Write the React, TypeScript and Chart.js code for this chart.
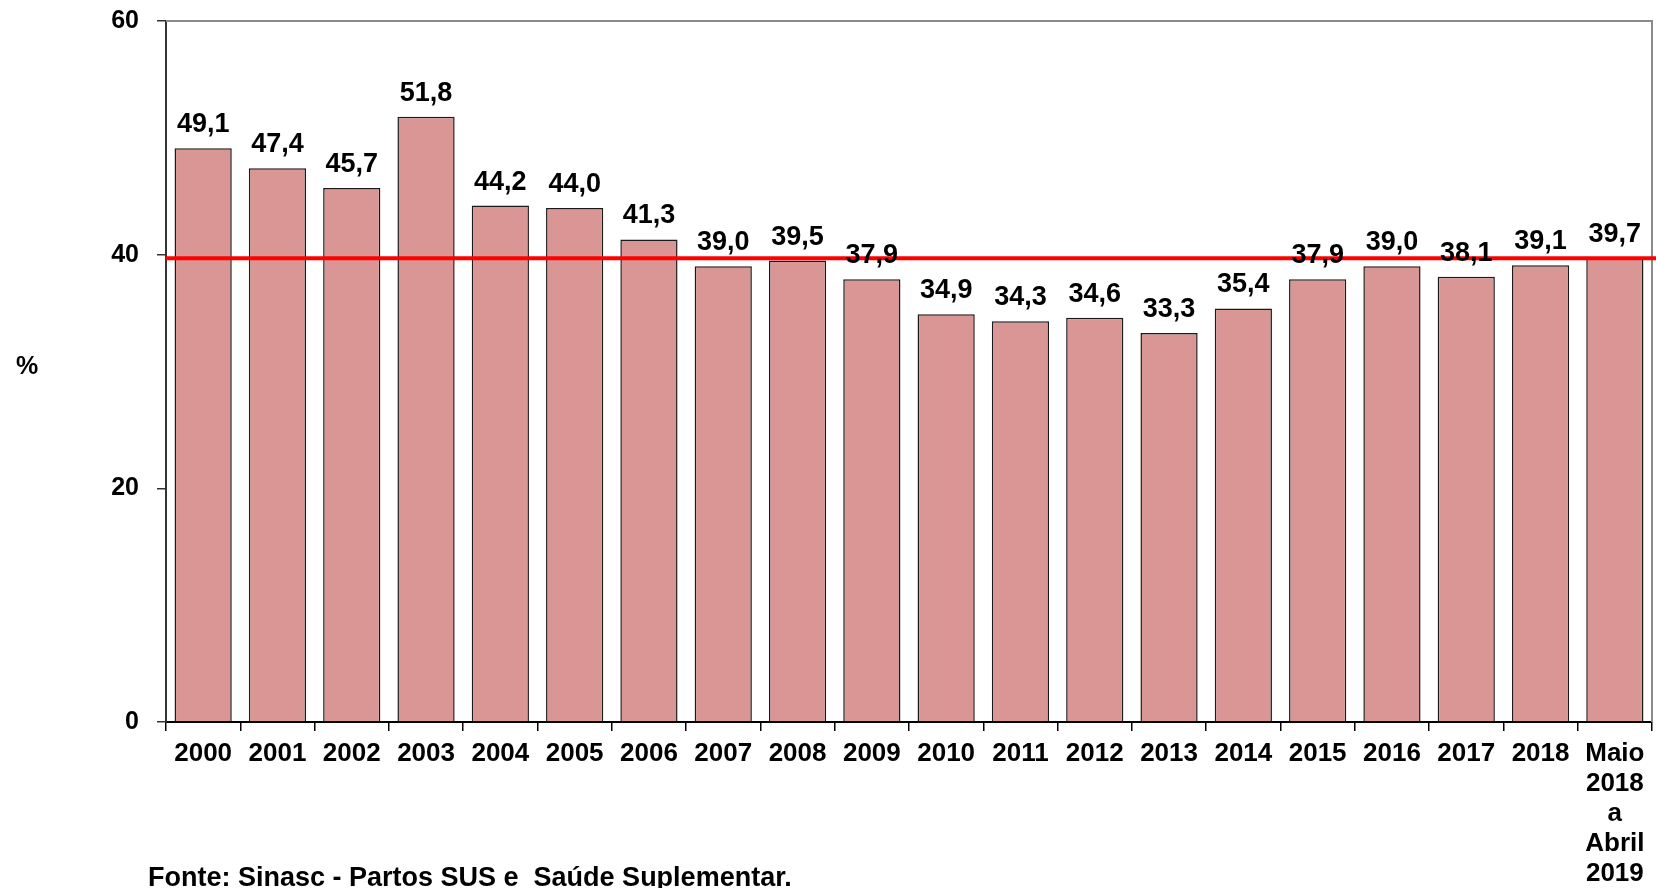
import React, { useEffect, useRef } from "react";
import { Chart, registerables } from "chart.js";

Chart.register(...registerables);

const categories: (string | string[])[] = [
  "2000", "2001", "2002", "2003", "2004", "2005", "2006", "2007", "2008", "2009",
  "2010", "2011", "2012", "2013", "2014", "2015", "2016", "2017", "2018",
  ["Maio", "2018", "a", "Abril", "2019"],
];
const values = [
  49.1, 47.4, 45.7, 51.8, 44.2, 44.0, 41.3, 39.0, 39.5, 37.9,
  34.9, 34.3, 34.6, 33.3, 35.4, 37.9, 39.0, 38.1, 39.1, 39.7,
];
const yMin = 0;
const yMax = 60;
const yStep = 20;
const referenceValue = 39.7;
const yAxisTitle = "%";
const sourceNote = "Fonte: Sinasc - Partos SUS e  Saúde Suplementar.";

const FONT = '"Liberation Sans", Arial, sans-serif';

const fmt = (v: number) => v.toFixed(1).replace(".", ",");

const extrasPlugin = {
  id: "extras",
  beforeDatasetsDraw(chart: any) {
    const { ctx, chartArea } = chart;
    ctx.save();
    ctx.strokeStyle = "#8a8a8a";
    ctx.lineWidth = 2;
    ctx.beginPath();
    ctx.moveTo(chartArea.left, chartArea.top);
    ctx.lineTo(chartArea.right, chartArea.top);
    ctx.lineTo(chartArea.right, chartArea.bottom);
    ctx.stroke();
    ctx.restore();
  },
  afterDatasetsDraw(chart: any) {
    const { ctx, chartArea } = chart;
    const yScale = chart.scales.y;
    ctx.save();
    // reference line
    const yRef = yScale.getPixelForValue(referenceValue);
    ctx.strokeStyle = "#ff0000";
    ctx.lineWidth = 4;
    ctx.beginPath();
    ctx.moveTo(chartArea.left, yRef);
    ctx.lineTo(chartArea.right + 4, yRef);
    ctx.stroke();

    // value labels
    const meta = chart.getDatasetMeta(0);
    ctx.fillStyle = "#000";
    ctx.font = `bold 27px ${FONT}`;
    ctx.textAlign = "center";
    ctx.textBaseline = "alphabetic";
    meta.data.forEach((bar: any, i: number) => {
      ctx.fillText(fmt(values[i]), bar.x, bar.y - 16);
    });

    // y axis title
    ctx.font = `bold 25px ${FONT}`;
    ctx.textAlign = "center";
    ctx.textBaseline = "middle";
    ctx.fillText(yAxisTitle, 27, 367);

    // source note
    ctx.font = `bold 27px ${FONT}`;
    ctx.textAlign = "left";
    ctx.textBaseline = "alphabetic";
    ctx.fillText(sourceNote, 148, 886);
    ctx.restore();
  },
};

export default function App() {
  const ref = useRef<HTMLCanvasElement | null>(null);

  useEffect(() => {
    document.body.style.margin = "0";
    const canvas = ref.current;
    if (!canvas) return;
    const chart = new Chart(canvas, {
      type: "bar",
      data: {
        labels: categories as any,
        datasets: [
          {
            data: values,
            backgroundColor: "#d99694",
            borderColor: "#1a1a1a",
            borderWidth: 1.5,
            barPercentage: 0.77,
            categoryPercentage: 1,
          },
        ],
      },
      options: {
        animation: false,
        responsive: false,
        maintainAspectRatio: false,
        layout: { padding: { top: 21, right: 5, left: 0, bottom: 0 } },
        plugins: {
          legend: { display: false },
          tooltip: { enabled: false },
          title: { display: false },
        },
        scales: {
          x: {
            grid: {
              display: true,
              drawOnChartArea: false,
              drawTicks: true,
              tickLength: 9,
              color: "#000",
              lineWidth: 1.5,
              offset: true,
            },
            border: { display: true, color: "#000", width: 2 },
            ticks: {
              color: "#000",
              font: { family: FONT, size: 26, weight: "bold", lineHeight: 1.15 },
              padding: 8,
              maxRotation: 0,
              minRotation: 0,
              autoSkip: false,
            },
            afterFit(scale: any) {
              scale.height = 166;
              scale.paddingLeft = 0;
              scale.paddingRight = 0;
            },
          },
          y: {
            min: yMin,
            max: yMax,
            ticks: {
              stepSize: yStep,
              color: "#000",
              font: { family: FONT, size: 25, weight: "bold" },
              padding: 18,
            },
            grid: {
              display: true,
              drawOnChartArea: false,
              drawTicks: true,
              tickLength: 9,
              color: "#333",
              lineWidth: 1.5,
            },
            border: { display: true, color: "#333", width: 2 },
            afterFit(scale: any) {
              scale.width = 166;
              scale.paddingTop = 0;
              scale.paddingBottom = 0;
            },
          },
        },
      },
      plugins: [extrasPlugin],
    });
    return () => chart.destroy();
  }, []);

  return (
    <div style={{ position: "fixed", left: 0, top: 0, width: 1657, height: 888, background: "#fff" }}>
      <canvas ref={ref} width={1657} height={888} style={{ width: 1657, height: 888, display: "block" }} />
    </div>
  );
}
